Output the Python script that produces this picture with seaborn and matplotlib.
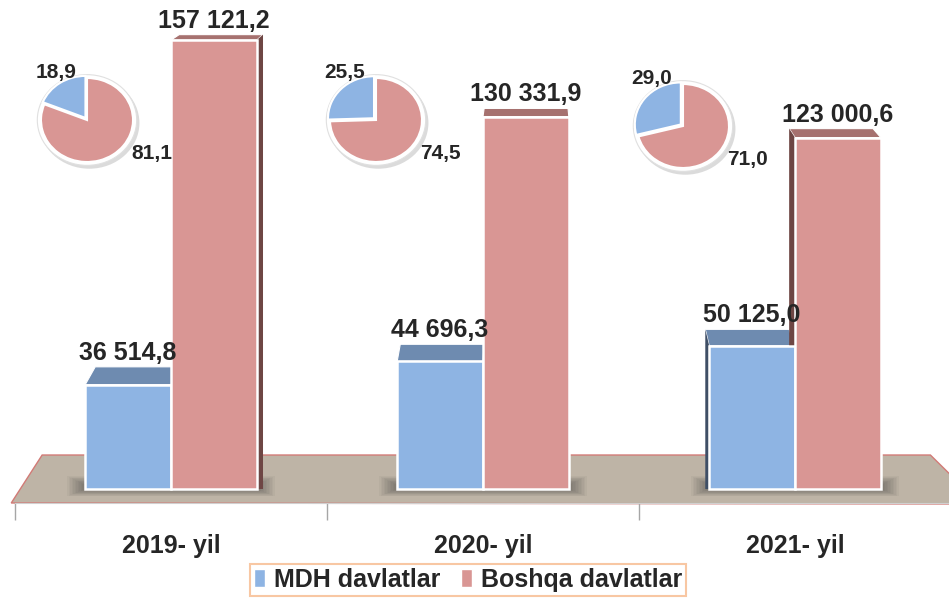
import pandas as pd
import matplotlib.pyplot as plt
import seaborn as sns
from matplotlib.patches import Polygon, Rectangle, Ellipse

# Ma'lumotlar
yillar = ['2019- yil', '2020- yil', '2021- yil']
guruhlar = ['MDH davlatlar', 'Boshqa davlatlar']
mdh = [36514.8, 44696.3, 50125.0]
boshqa = [157121.2, 130331.9, 123000.6]
mdh_ulush = [18.9, 25.5, 29.0]
boshqa_ulush = [81.1, 74.5, 71.0]

kok, qizil = '#8EB4E3', '#D99694'
kok_ust, qizil_ust = '#6E8BB0', '#A6716F'
kok_yon, qizil_yon = '#3F4F66', '#6E4644'

df = pd.DataFrame({
    'yil': yillar * 2,
    'guruh': [guruhlar[0]] * 3 + [guruhlar[1]] * 3,
    'qiymat': mdh + boshqa,
})

def fmt(v):
    return f"{v:,.1f}".replace(',', ' ').replace('.', ',')

sns.set_style('white')
plt.rcParams['font.family'] = ['Liberation Sans', 'DejaVu Sans']

W, H = 949, 598
fig = plt.figure(figsize=(W / 100, H / 100), dpi=100)
ax = fig.add_axes([15 / W, (H - 503) / H, 936 / W, 503 / H])
S = 350.0          # ma'lumot birligi / piksel
PX = 312.0         # bir kategoriya kengligi, piksel

sns.barplot(data=df, x='yil', y='qiymat', hue='guruh', palette=[kok, qizil], saturation=1,
            width=0.55, edgecolor='white', linewidth=1.8, ax=ax, legend=False)
ax.set_xlim(-0.5, 2.5)
ax.set_ylim(-14 * S, 489 * S)

# pol (floor)
ax.add_patch(Polygon([(-0.004, 0), (0.029, 0.0954), (0.978, 0.0954), (1.03, 0), (1.03, -0.002)],
                     closed=True, transform=ax.transAxes, facecolor='#BEB4A6',
                     edgecolor='#D27A76', lw=1.0, zorder=0, clip_on=False))

# 3D effekt
for cont, ust, yon in zip(ax.containers, [kok_ust, qizil_ust], [kok_yon, qizil_yon]):
    for bar in cont:
        bar.set_zorder(3)
        x0, w, h = bar.get_x(), bar.get_width(), bar.get_height()
        x1 = x0 + w
        ypx = 489 - h / S
        dy = (4 + 0.036 * ypx) * S
        xp0, xp1 = 15 + (x0 + 0.5) * PX, 15 + (x1 + 0.5) * PX
        dx0 = 0.0224 * (534 - xp0) / PX
        dx1 = 0.0224 * (534 - xp1) / PX
        ax.add_patch(Polygon([(x0, h), (x1, h), (x1 + dx1, h + dy), (x0 + dx0, h + dy)],
                             closed=True, fc=ust, ec='white', lw=0.8, zorder=2))
        if dx1 > 0:
            ax.add_patch(Polygon([(x1, 0), (x1, h), (x1 + dx1, h + dy), (x1 + dx1, 0)],
                                 closed=True, fc=yon, ec='none', zorder=2))
        if dx0 < 0:
            ax.add_patch(Polygon([(x0, 0), (x0, h), (x0 + dx0, h + dy), (x0 + dx0, 0)],
                                 closed=True, fc=yon, ec='none', zorder=2))
        ax.annotate(fmt(h), (x0 + w / 2, h + dy), xytext=(0, 2), textcoords='offset pixels',
                    ha='center', va='bottom', fontsize=18, fontweight='bold', zorder=5,
                    annotation_clip=False)

# soya
for i in range(3):
    for k in range(12):
        pad = (12 - k) * 1.5
        ax.add_patch(Rectangle((i - 0.275 - pad / PX, -pad * 0.4 * S),
                               0.55 + 2 * pad / PX, (pad * 0.9 + 4) * S,
                               fc='#303030', ec='none', alpha=0.045, zorder=1))

sns.despine(ax=ax, left=True)
ax.spines['bottom'].set_color('#D0D0D0')
ax.set_yticks([])
ax.set_xlabel('')
ax.set_ylabel('')
ax.set_xticks([0, 1, 2])
ax.set_xticklabels(yillar, fontsize=18, fontweight='bold')
ax.set_xticks([-0.5, 0.5, 1.5, 2.5], minor=True)
ax.tick_params(axis='x', which='major', length=0, pad=22)
ax.tick_params(axis='x', which='minor', bottom=True, length=12, color='#A6A6A6', width=1)

# doiraviy diagrammalar
markazlar = [(87, 120), (376, 120), (683, 126)]
rx, ry = 46, 42
for (cx, cy), a, b in zip(markazlar, mdh_ulush, boshqa_ulush):
    k = 1.2
    pax = fig.add_axes([(cx - rx * k) / W, (H - cy - ry * k) / H, 2 * rx * k / W, 2 * ry * k / H])
    pax.add_patch(Ellipse((0.05, -0.07), 2.18, 2.18, fc='#9a9a9a', ec='none', alpha=0.35, zorder=0))
    pax.add_patch(Ellipse((0, 0), 2.16, 2.16, fc='white', ec='#E0E0E0', lw=0.8, zorder=0.5))
    pax.pie([a, b], colors=[kok, qizil], startangle=90, counterclock=True, radius=1,
            explode=[0.06, 0], wedgeprops=dict(edgecolor='white', linewidth=1.5))
    pax.set_xlim(-k, k)
    pax.set_ylim(-k, k)
    pax.set_aspect('auto')
    pax.axis('off')
    pax.text(-0.68, 1.12, fmt(a), ha='center', va='center', fontsize=15, fontweight='bold')
    pax.text(1.4, -0.8, fmt(b), ha='center', va='center', fontsize=15, fontweight='bold')

# legenda
handles = [Rectangle((0, 0), 1, 1, fc=kok), Rectangle((0, 0), 1, 1, fc=qizil)]
leg = fig.legend(handles, guruhlar, loc='lower center', bbox_to_anchor=(468 / W, 0.0), ncol=2,
                 prop={'weight': 'bold', 'size': 18}, frameon=True, fancybox=False,
                 edgecolor='#F7B98C', handlelength=0.45, handleheight=0.7, handletextpad=0.35,
                 columnspacing=0.8, borderpad=0.15, borderaxespad=0.1)
leg.get_frame().set_linewidth(1.5)

fig.savefig('out.png', dpi=100)
